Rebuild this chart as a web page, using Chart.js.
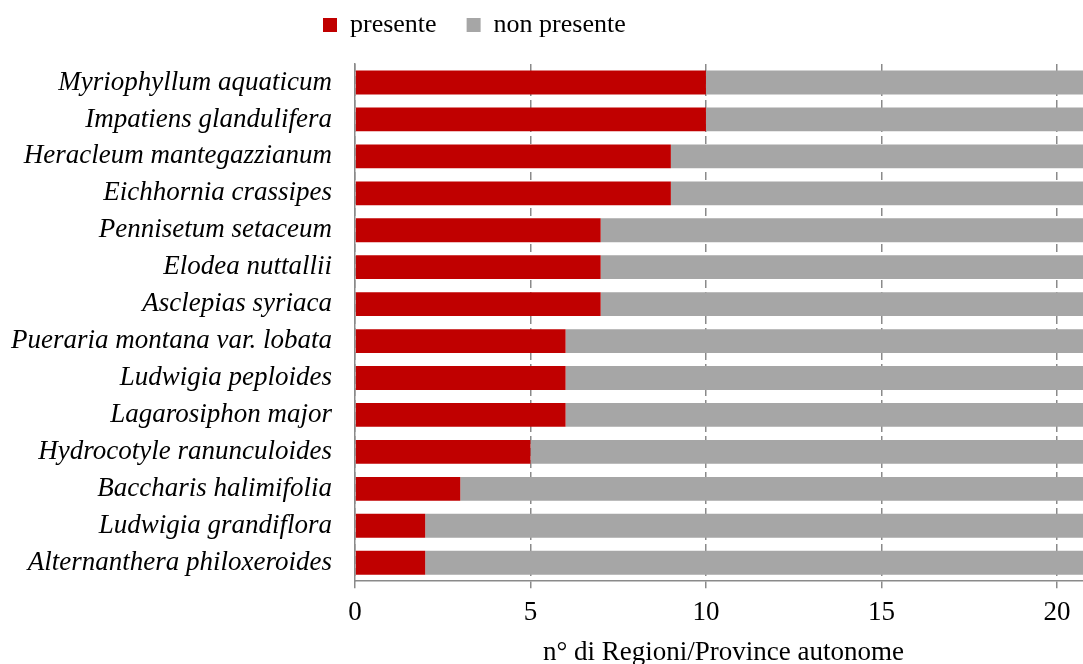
<!DOCTYPE html>
<html>
<head>
<meta charset="utf-8">
<script src="https://cdn.jsdelivr.net/npm/chart.js@4.4.1/dist/chart.umd.min.js"></script>
<style>
  html, body { margin: 0; padding: 0; background: #ffffff; overflow: hidden; }
  #wrap { position: relative; width: 1092px; height: 664px; }
</style>
</head>
<body>
<div id="wrap"><canvas id="c"></canvas></div>
<script>
const categories = [
  "Myriophyllum aquaticum",
  "Impatiens glandulifera",
  "Heracleum mantegazzianum",
  "Eichhornia crassipes",
  "Pennisetum setaceum",
  "Elodea nuttallii",
  "Asclepias syriaca",
  "Pueraria montana var. lobata",
  "Ludwigia peploides",
  "Lagarosiphon major",
  "Hydrocotyle ranunculoides",
  "Baccharis halimifolia",
  "Ludwigia grandiflora",
  "Alternanthera philoxeroides"
];
const presente    = [10, 10, 9, 9, 7, 7, 7, 6, 6, 6, 5, 3, 2, 2];
const nonPresente = [11, 11, 12, 12, 14, 14, 14, 15, 15, 15, 16, 18, 19, 19];
const seriesNames = ["presente", "non presente"];
const axisTitle = "n° di Regioni/Province autonome";
const axisMax = 21;
const axisStep = 5;

const SERIF = '"Liberation Serif", "Times New Roman", serif';

const legendFix = {
  id: 'legendFix',
  beforeLayout(chart) {
    const lg = chart.legend;
    if (lg && !lg.__patched) {
      const f = lg.fit;
      lg.fit = function () { f.call(this); this.height = 64; };
      lg.__patched = true;
    }
  },
  afterLayout(chart) {
    const lg = chart.legend;
    if (!lg) return;
    const pad = lg.options.labels.padding;
    const w = lg.right - lg.left;
    lg.left = 323 - pad;
    lg.right = lg.left + w;
    lg.top = 12 - pad;
  }
};

new Chart(document.getElementById('c'), {
  type: 'bar',
  data: {
    labels: categories,
    datasets: [
      { label: seriesNames[0], data: presente, backgroundColor: '#C00000', borderWidth: 0 },
      { label: seriesNames[1], data: nonPresente, backgroundColor: '#A6A6A6', borderWidth: 0 }
    ]
  },
  options: {
    indexAxis: 'y',
    responsive: true,
    maintainAspectRatio: false,
    animation: false,
    devicePixelRatio: 1,
    layout: { padding: { left: 0, right: 0, top: 0, bottom: 0 } },
    datasets: { bar: { categoryPercentage: 1, barPercentage: 0.645 } },
    plugins: {
      tooltip: { enabled: false },
      legend: {
        position: 'top',
        align: 'start',
        labels: {
          boxWidth: 14,
          boxHeight: 14,
          padding: 30,
          color: '#000000',
          font: { family: SERIF, size: 26 }
        }
      }
    },
    scales: {
      x: {
        type: 'linear',
        stacked: true,
        min: 0,
        max: axisMax,
        ticks: {
          stepSize: axisStep,
          includeBounds: false,
          padding: 9,
          color: '#000000',
          font: { family: SERIF, size: 27 }
        },
        grid: {
          display: true,
          drawOnChartArea: true,
          drawTicks: true,
          tickLength: 7,
          color: '#8a8a8a',
          lineWidth: 1.5,
          tickColor: '#8a8a8a',
          tickWidth: 1.5
        },
        border: { display: true, color: '#8a8a8a', width: 1.5, dash: [8, 4], z: 1 },
        title: {
          display: true,
          text: axisTitle,
          color: '#000000',
          font: { family: SERIF, size: 27 },
          padding: { top: -2, bottom: -5 }
        }
      },
      y: {
        stacked: true,
        grid: { display: false, drawTicks: false },
        border: { display: true, color: '#8a8a8a', width: 1.5, z: 1 },
        ticks: {
          padding: 23,
          color: '#000000',
          font: { family: SERIF, size: 27, style: 'italic' }
        },
        afterFit(scale) { scale.width = 355; }
      }
    }
  },
  plugins: [legendFix]
});
</script>
</body>
</html>
